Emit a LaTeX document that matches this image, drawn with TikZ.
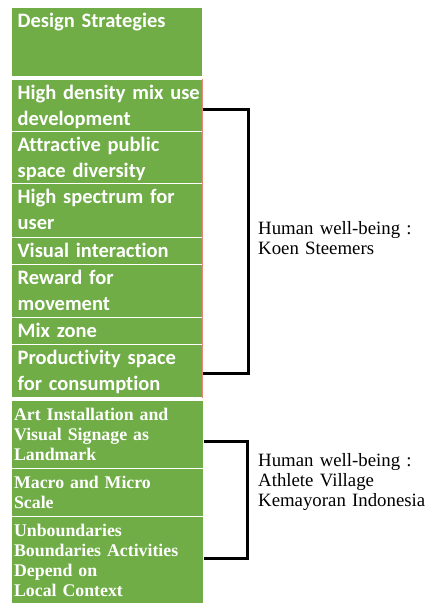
\documentclass[tikz,border=0pt]{standalone}
\usepackage{fontspec}
\setmainfont{Liberation Serif}
\newfontfamily\cellsans{Carlito}[Ligatures=NoCommon]
\definecolor{cellgreen}{HTML}{70AD47}
\definecolor{edgered}{HTML}{E8857C}
\begin{document}
\begin{tikzpicture}[x=1pt,y=-1pt,
  cell/.style={rectangle, fill=cellgreen, draw=white, line width=1.2pt,
    anchor=north west, inner ysep=0pt, text height=20pt, text=white,
    align=left, font=\cellsans\bfseries\fontsize{20.5}{26}\selectfont},
  sanscell/.style={cell, inner xsep=6pt, text width=178.5pt, minimum width=190.5pt},
  serifcell/.style={cell, inner xsep=2.5pt, text width=187pt, minimum width=192pt,
    font=\rmfamily\bfseries\fontsize{17.8}{20}\selectfont},
  bracket/.style={draw=black, line width=3pt, line join=miter},
  note/.style={anchor=north west, inner sep=0pt, text height=15pt, text width=167pt,
    align=left, font=\rmfamily\fontsize{18.8}{20}\selectfont}]
\useasboundingbox (0,0) rectangle (425,603);

% strategy list
\node[sanscell, text depth=49pt] (head) at (11,7) {Design Strategies};
\node[sanscell, text depth=32pt] (c1) at (11,79) {\mbox{High density mix use}\\development};
\node[sanscell, text depth=32pt] (c2) at (11,131) {Attractive public\\space diversity};
\node[sanscell, text depth=34pt] (c3) at (11,183) {High spectrum for\\user};
\node[sanscell, text depth=7pt] (c4) at (11,237) {Visual interaction};
\node[sanscell, text depth=33pt] (c5) at (11,264) {Reward for\\movement};
\node[sanscell, text depth=7pt] (c6) at (11,317) {Mix zone};
\node[sanscell, text depth=33pt] (c7) at (11,344) {\mbox{Productivity space}\\for consumption};
\draw[edgered, line width=0.7pt] (c1.north east) -- (c7.south east);

% local case list
\node[serifcell, text depth=48pt] (d1) at (11,400) {Art Installation and\\Visual Signage as\\Landmark};
\node[serifcell, text depth=28pt] (d2) at (11,468) {Macro and Micro\\Scale};
\node[serifcell, text depth=67pt] (d3) at (11,516) {Unboundaries\\\mbox{Boundaries Activities}\\Depend on\\Local Context};

% brackets and their labels
\coordinate (b1a) at (248,109);
\coordinate (b1b) at (248,373);
\coordinate (b2a) at (247,441);
\coordinate (b2b) at (247,558);
\draw[bracket] (c1.east |- b1a) -- (b1a) -- (b1b) -- (c7.east |- b1b);
\draw[bracket] (d1.east |- b2a) -- (b2a) -- (b2b) -- (d3.east |- b2b);

\node[note] (lab1) at (258,219) {Human well-being :\\Koen Steemers};
\node[note] (lab2) at (258,451.7) {Human well-being :\\Athlete Village\\\mbox{Kemayoran Indonesia}};
\end{tikzpicture}
\end{document}
